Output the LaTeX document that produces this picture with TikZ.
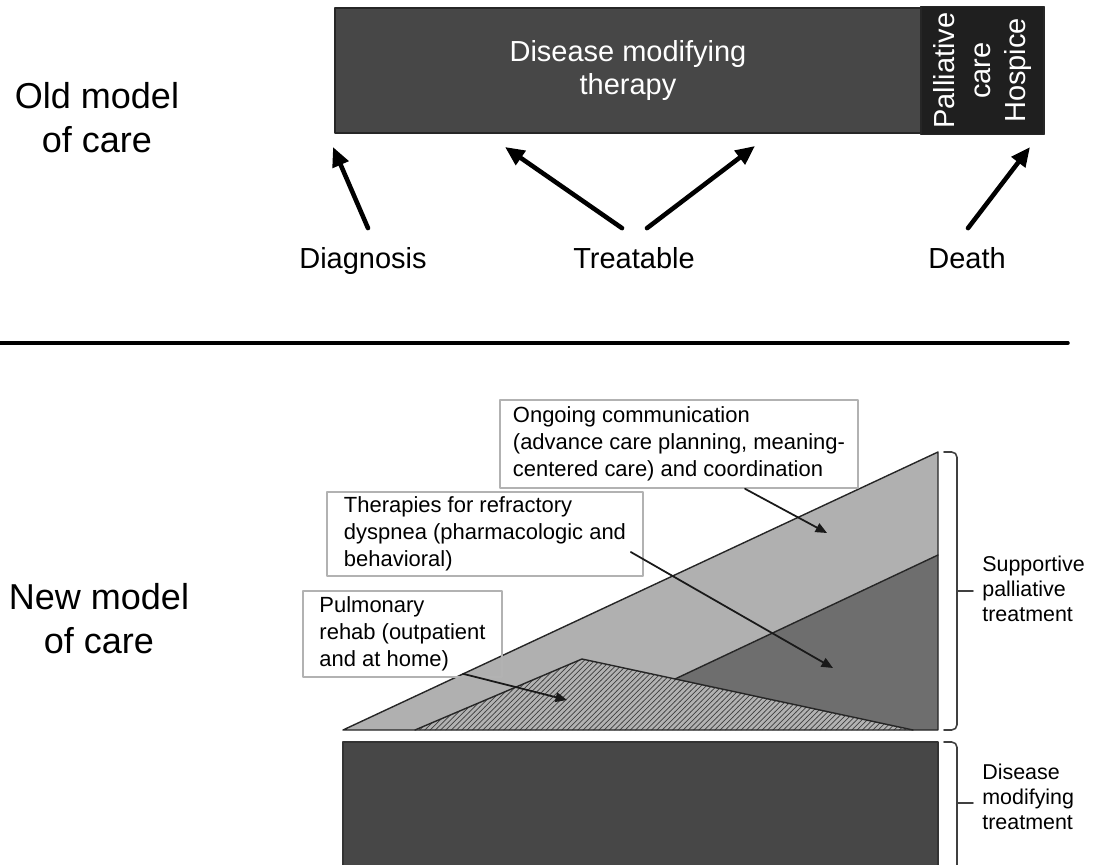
\documentclass[tikz,border=0pt]{standalone}
\usepackage{fontspec}
\setmainfont{Liberation Sans}
\usetikzlibrary{calc,arrows.meta,patterns}

\begin{document}
\begin{tikzpicture}[x=0.02cm,y=-0.02cm,line cap=round,line join=round,
    bigarrow/.style={-{Triangle[length=11pt,width=9.5pt]},line width=2.6pt},
    thinarrow/.style={-{Triangle[length=6.5pt,width=5.5pt]},line width=1pt,black!90},
    callout/.style={draw=gray!60,line width=0.9pt,align=left,inner sep=0pt,font=\fontsize{12.5}{15.3}\selectfont},
    sidelabel/.style={align=left,anchor=west,inner sep=0pt,font=\fontsize{12.2}{14.2}\selectfont},
    modellabel/.style={align=center,inner sep=0pt,font=\fontsize{20.5}{25}\selectfont},
    eventlabel/.style={anchor=base,inner sep=2pt,font=\fontsize{16.5}{19}\selectfont},
    edge/.style={draw=black!85,line width=0.8pt},
    brk/.style={draw=black!75,line width=0.9pt,rounded corners=3pt}]
  \colorlet{dmtgray}{black!72}
  \colorlet{lightpal}{black!31}
  \colorlet{darkpal}{black!57}

  \useasboundingbox (0,0) rectangle (1095,865);

  % old model
  \node[modellabel] (oldModel) at (97,118) {Old model\\of care};

  \node[fill=dmtgray,draw=black!85,line width=0.9pt,minimum width=11.72cm,minimum height=2.5cm,
        text=white,align=center,font=\fontsize{16.5}{18.5}\selectfont] (dmt) at (628,70.5)
        {Disease modifying\\therapy};
  \node[fill=black!88,draw=black!85,line width=0.9pt,rotate=90,minimum width=2.5cm,minimum height=2.46cm,
        text=white,align=center,font=\fontsize{16.5}{20}\selectfont] (pal) at (982.5,70.5)
        {Palliative\\care\\Hospice};

  \node[eventlabel] (diag) at (363,268) {Diagnosis};
  \node[eventlabel] (treat) at (634,268) {Treatable};
  \node[eventlabel] (death) at (967,268) {Death};

  % arrow tips under the bar
  \coordinate (diagTip) at (333,147);
  \coordinate (treatTipL) at (505,147);
  \coordinate (treatTipR) at (755,146);
  \coordinate (deathTip) at (1030,147);

  \draw[bigarrow] ($(diag.north)+(5,-15)$) -- (diagTip);
  \draw[bigarrow] ($(treat.north)+(-12,-15)$) -- (treatTipL);
  \draw[bigarrow] ($(treat.north)+(13,-15)$) -- (treatTipR);
  \draw[bigarrow] ($(death.north)+(1,-15)$) -- (deathTip);

  % divider
  \draw[line width=2pt] (0,343) -- (1068,343);

  % new model
  \node[modellabel] (newModel) at (99,619) {New model\\of care};

  % wedge of supportive care
  \coordinate (baseL) at (343,730);
  \coordinate (apex) at (938,452);
  \coordinate (baseR) at (938,730);
  \coordinate (hatchL) at (415,730);
  \coordinate (hatchTop) at (582,659);
  \coordinate (hatchR) at (913,730);
  \coordinate (darkL) at (675,679);
  \coordinate (darkTop) at (938,555);

  \fill[lightpal] (baseL) -- (apex) -- (baseR) -- cycle;
  \fill[preaction={fill=black!30},pattern=north east lines,pattern color=black!75]
    (hatchL) -- (hatchTop) -- (hatchR) -- cycle;
  \fill[darkpal] (darkL) -- (darkTop) -- (baseR) -- (hatchR) -- cycle;
  \draw[edge] (hatchL) -- (hatchTop) -- (hatchR);
  \draw[edge] (darkL) -- (darkTop);
  \draw[edge] (baseL) -- (apex) -- (baseR) -- cycle;

  % disease modifying block
  \draw[fill=dmtgray,draw=black!80,line width=0.8pt] (343,742) rectangle (938,868);

  % callouts
  \node[callout,minimum width=7.16cm,minimum height=1.76cm] (ongoing) at (679,444)
    {Ongoing communication\\(advance care planning, meaning-\\centered care) and coordination};
  \node[callout,minimum width=6.32cm,minimum height=1.68cm] (therapy) at (485,534)
    {Therapies for refractory\\dyspnea (pharmacologic and\\behavioral)};
  \node[callout,minimum width=3.98cm,minimum height=1.72cm] (rehab) at (402.5,634)
    {Pulmonary\\rehab (outpatient\\and at home)};

  \coordinate (ongoingTip) at (827,533);
  \coordinate (therapyTip) at (833,668);
  \coordinate (rehabTip) at (567,700);

  \draw[thinarrow] ($(ongoing.south)+(66,0)$) -- (ongoingTip);
  \draw[thinarrow] ($(therapy.east)+(-13,18)$) -- (therapyTip);
  \draw[thinarrow] ($(rehab.south)+(60.5,-4)$) -- (rehabTip);

  % brackets
  \draw[brk] (944,452) -- (957,452) -- (957,730) -- (944,730);
  \draw[brk] (957,591) -- (973,591);
  \draw[brk] (944,742) -- (957,742) -- (957,866);
  \draw[brk] (957,803) -- (973,803);

  \node[sidelabel] (suppLab) at (982,589) {Supportive\\palliative\\treatment};
  \node[sidelabel] (dmtLab) at (982,797) {Disease\\modifying\\treatment};
\end{tikzpicture}
\end{document}
